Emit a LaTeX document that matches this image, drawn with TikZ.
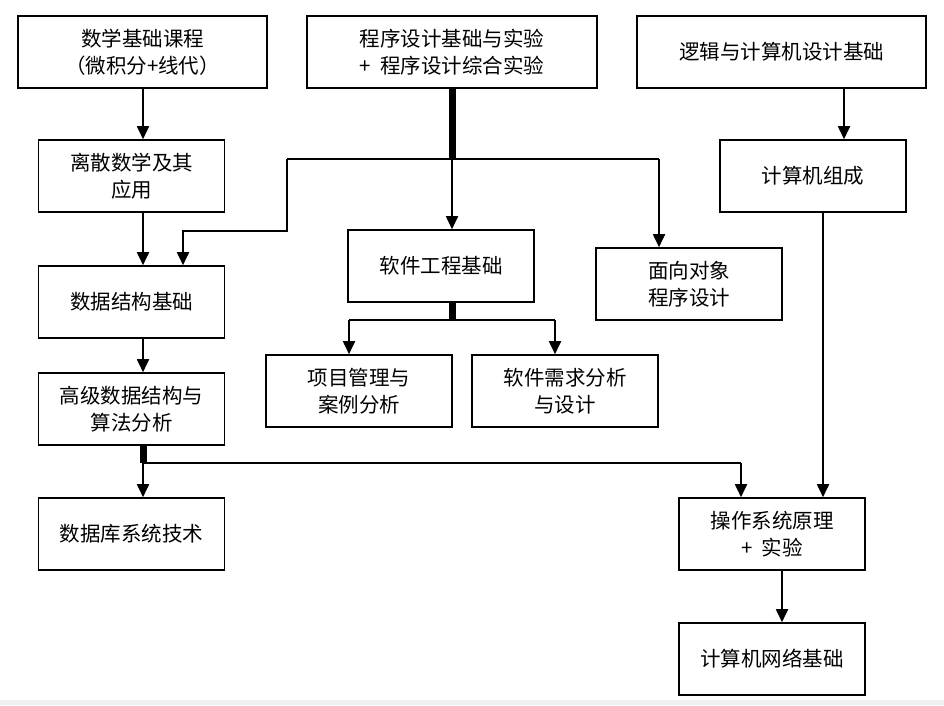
\documentclass[tikz,border=0pt]{standalone}
\usepackage{fontspec}
\setmainfont{Liberation Serif}
\newfontfamily\cjk{Noto Sans CJK SC}
\usetikzlibrary{arrows.meta}
\begin{document}
\begin{tikzpicture}[x=1pt,y=-1pt,
 box/.style={draw, line width=1.6pt, minimum width=186pt, minimum height=72pt, align=center, font=\cjk\fontsize{20.5}{27}\selectfont, inner sep=0pt},
 conn/.style={line width=1.8pt},
 arr/.style={conn, -{Triangle[width=12pt,length=13pt]}},
 thickline/.style={line width=7pt}
]
\useasboundingbox (0,0) rectangle (944,705);
\fill[white] (0,0) rectangle (944,705);
\fill[black!6] (0,700) rectangle (944,705);

% boxes
\node[box, minimum width=249pt] (b1) at (142.5,52) {数学基础课程\\（微积分+线代）};
\node[box, minimum width=290pt] (b2) at (452,52) {程序设计基础与实验\\+\ \ 程序设计综合实验};
\node[box, minimum width=289pt] (b3) at (781.5,52) {逻辑与计算机设计基础};
\node[box] (b4) at (131.5,176) {离散数学及其\\应用};
\node[box] (b5) at (813,176) {计算机组成};
\node[box] (b6) at (131.5,302) {数据结构基础};
\node[box] (b7) at (441,266) {软件工程基础};
\node[box] (b8) at (689,284) {面向对象\\程序设计};
\node[box] (b9) at (131.5,409) {高级数据结构与\\算法分析};
\node[box] (b10) at (359,391) {项目管理与\\案例分析};
\node[box] (b11) at (565,391) {软件需求分析\\与设计};
\node[box] (b12) at (131.5,534) {数据库系统技术};
\node[box] (b13) at (772,534) {操作系统原理\\+\ \ 实验};
\node[box] (b14) at (772,659) {计算机网络基础};

% junction coordinates
\coordinate (cx) at (143,0);
\coordinate (j1) at (452,159);
\coordinate (jl) at (287,159);
\coordinate (jr) at (659,159);
\coordinate (jl2) at (287,231);
\coordinate (jl3) at (183,231);
\coordinate (k1) at (452,320);
\coordinate (kl) at (349,320);
\coordinate (kr) at (555,320);
\coordinate (m1) at (143,463);
\coordinate (mr) at (741,463);
\coordinate (ax3) at (844,0);
\coordinate (ax5) at (823,0);
\coordinate (ax13) at (782,0);

% left column
\draw[arr] (b1.south -| cx) -- (b4.north -| cx);
\draw[arr] (b4.south -| cx) -- (b6.north -| cx);
\draw[arr] (b6.south -| cx) -- (b9.north -| cx);
\draw[thickline] (b9.south -| cx) -- (m1);
\draw[arr] (m1) -- (b12.north -| cx);
\draw[conn] (m1) -- (mr);
\draw[arr] (mr) -- (b13.north -| mr);

% program design branches
\draw[thickline] (b2.south) -- (j1);
\draw[conn] (jl) -- (jr);
\draw[arr] (j1) -- (b7.north -| j1);
\draw[arr] (jr) -- (b8.north -| jr);
\draw[arr] (jl) -- (jl2) -- (jl3) -- (b6.north -| jl3);

% software engineering branches
\draw[thickline] (b7.south -| k1) -- (k1);
\draw[conn] (kl) -- (kr);
\draw[arr] (kl) -- (b10.north -| kl);
\draw[arr] (kr) -- (b11.north -| kr);

% right column
\draw[arr] (b3.south -| ax3) -- (b5.north -| ax3);
\draw[arr] (b5.south -| ax5) -- (b13.north -| ax5);
\draw[arr] (b13.south -| ax13) -- (b14.north -| ax13);
\end{tikzpicture}
\end{document}
